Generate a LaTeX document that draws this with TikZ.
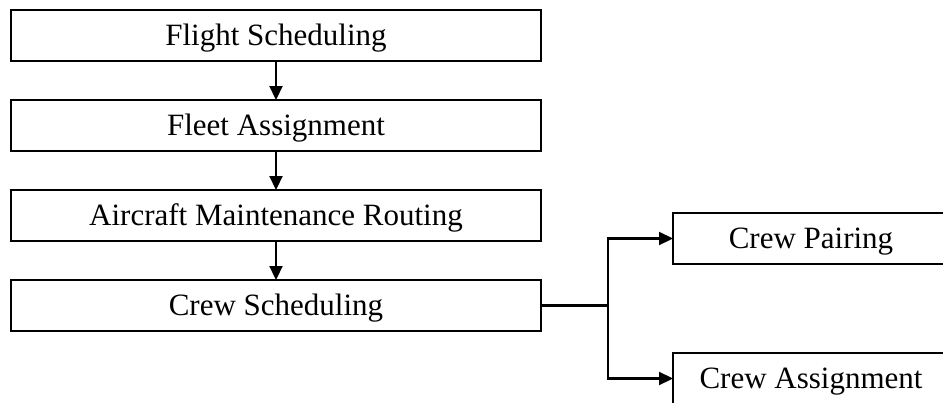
\documentclass[tikz,border=0pt]{standalone}
\usepackage{fontspec}
\setmainfont{Liberation Serif}
\usetikzlibrary{arrows.meta}

\tikzset{
  stagebox/.style={draw, line width=2.4pt, rectangle, inner sep=0pt, outer sep=0pt,
    minimum width=530pt, minimum height=51pt, text height=27pt, text depth=6.6pt,
    font=\fontsize{31pt}{36pt}\selectfont},
  subbox/.style={stagebox, minimum width=276pt},
  flow/.style={line width=2.2pt, -{Triangle[length=14pt,width=13pt]}},
  trunk/.style={line width=2.2pt}
}

\begin{document}
\begin{tikzpicture}[x=1pt,y=-1pt]
  \useasboundingbox (0,0) rectangle (943,402);
  \clip (0,0) rectangle (943,402);

  % main planning stages
  \node[stagebox] (fs) at (276,35.5)  {Flight Scheduling};
  \node[stagebox] (fa) at (276,125.5) {Fleet Assignment};
  \node[stagebox] (am) at (276,215.5) {Aircraft Maintenance Routing};
  \node[stagebox] (cs) at (276,305.5) {Crew Scheduling};

  % crew scheduling sub-problems
  \node[subbox] (cp) at (811,238.5) {Crew Pairing};
  \node[subbox] (ca) at (811,378.5) {Crew Assignment};

  \draw[flow] (fs) -- (fa);
  \draw[flow] (fa) -- (am);
  \draw[flow] (am) -- (cs);

  % branch to the two sub-problems
  \coordinate (split) at (608,305.5);
  \draw[trunk] (cs.east) -- (split);
  \draw[flow] (split) |- (cp.west);
  \draw[flow] (split) |- (ca.west);
\end{tikzpicture}
\end{document}
